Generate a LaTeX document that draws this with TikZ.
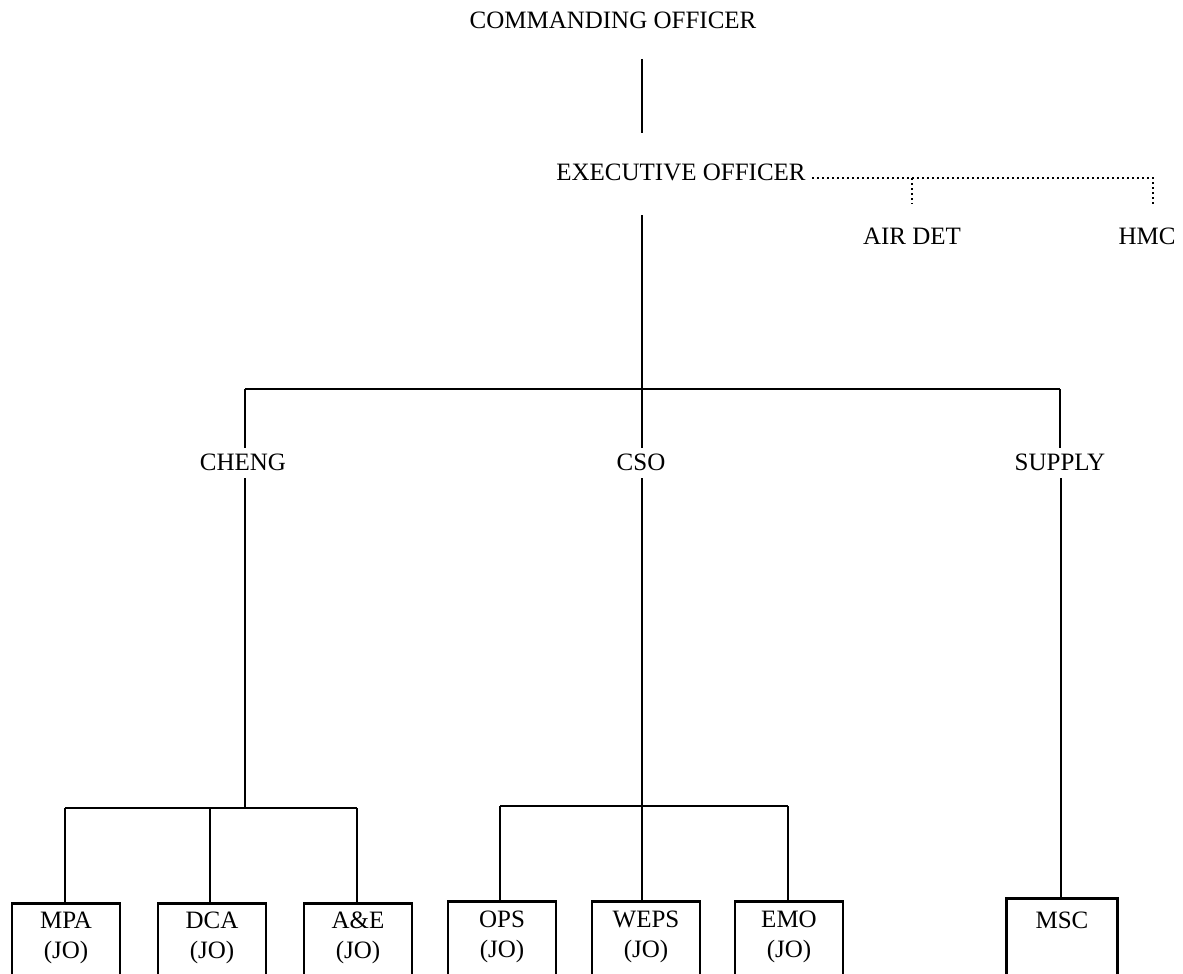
\documentclass[tikz,border=0pt]{standalone}
\usepackage{fontspec}
\setmainfont{Liberation Serif}
\begin{document}
\begin{tikzpicture}[x=1pt,y=-1pt,
  every node/.style={font=\fontsize{25}{30}\selectfont, inner sep=0pt},
  link/.style={line width=2.8pt},
  dotlink/.style={line width=1.5pt, dash pattern=on 1.5pt off 3.5pt},
  unitbox/.style={draw, line width=2.7pt, minimum width=108pt, minimum height=150pt, anchor=north},
  unittext/.style={align=center}]
\useasboundingbox (0,0) rectangle (1183,974);
\clip (0,0) rectangle (1183,974);

% command titles
\node (co) at (613,20) {COMMANDING OFFICER};
\node (xo) at (681,172) {EXECUTIVE OFFICER};
\node (air) at (912,236) {AIR DET};
\node (hmc) at (1147,236) {HMC};
\node (cheng) at (243,462) {CHENG};
\node (cso) at (641,462) {CSO};
\node (supply) at (1060,462) {SUPPLY};

% division boxes (open at the bottom edge)
\node[unitbox] (mpa) at (66,902) {};
\node[unitbox] (dca) at (212,902) {};
\node[unitbox] (ae) at (358,902) {};
\node[unitbox] (ops) at (502,900) {};
\node[unitbox] (weps) at (646,900) {};
\node[unitbox] (emo) at (789,900) {};
\node[unitbox, minimum width=111pt] (msc) at (1062,897) {};

\node[unittext] (mpat) at (66,938) {MPA\\(JO)};
\node[unittext] (dcat) at (212,938) {DCA\\(JO)};
\node[unittext] (aet) at (358,938) {A\&E\\(JO)};
\node[unittext] (opst) at (502,937) {OPS\\(JO)};
\node[unittext] (wepst) at (646,937) {WEPS\\(JO)};
\node[unittext] (emot) at (789,937) {EMO\\(JO)};
\node (msct) at (1062,920) {MSC};

% junction points of the chain of command
\coordinate (coEnd) at (642,59);
\coordinate (xoIn) at (642,133);
\coordinate (xoOut) at (642,215);
\coordinate (barMid) at (642,389);
\coordinate (barL) at (245,389);
\coordinate (barR) at (1060,389);
\coordinate (chengIn) at (245,448);
\coordinate (csoIn) at (642,448);
\coordinate (supplyIn) at (1060,448);
\coordinate (chengOut) at (245,478);
\coordinate (csoOut) at (642,478);
\coordinate (supplyOut) at (1061,478);
\coordinate (chengBar) at (245,808);
\coordinate (chengBarL) at (65,808);
\coordinate (chengBarM) at (210,808);
\coordinate (chengBarR) at (357,808);
\coordinate (csoBar) at (642,806);
\coordinate (csoBarL) at (500,806);
\coordinate (csoBarR) at (788,806);
\coordinate (dotStart) at (812,178);
\coordinate (dotAir) at (912,178);
\coordinate (dotEnd) at (1153,178);

% solid chain of command
\draw[link] (coEnd) -- (xoIn);
\draw[link] (xoOut) -- (barMid);
\draw[link] (barL) -- (barR);
\draw[link] (barL) -- (chengIn);
\draw[link] (barMid) -- (csoIn);
\draw[link] (barR) -- (supplyIn);
\draw[link] (chengOut) -- (chengBar);
\draw[link] (chengBarL) -- (chengBarR);
\draw[link] (chengBarL) -- (chengBarL |- mpa.north);
\draw[link] (chengBarM) -- (chengBarM |- dca.north);
\draw[link] (chengBarR) -- (chengBarR |- ae.north);
\draw[link] (csoOut) -- (csoBar);
\draw[link] (csoBarL) -- (csoBarR);
\draw[link] (csoBarL) -- (csoBarL |- ops.north);
\draw[link] (csoBar) -- (csoBar |- weps.north);
\draw[link] (csoBarR) -- (csoBarR |- emo.north);
\draw[link] (supplyOut) -- (supplyOut |- msc.north);

% dotted staff relationships
\draw[dotlink] (dotStart) -- (dotEnd) -- ++(0,26);
\draw[dotlink] (dotAir) -- ++(0,26);
\end{tikzpicture}
\end{document}
